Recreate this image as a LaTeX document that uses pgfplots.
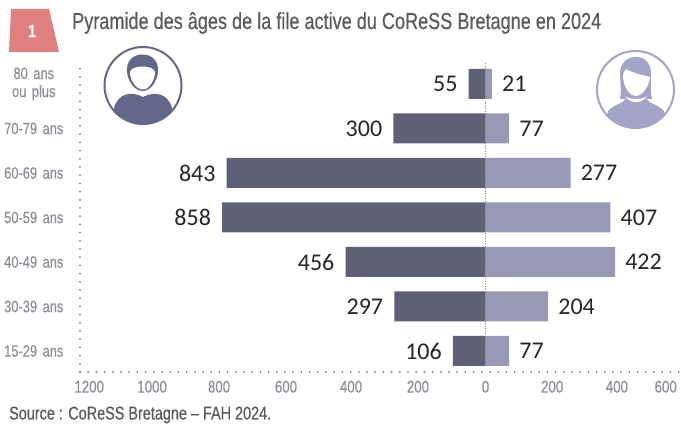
\documentclass[border=0pt]{standalone}
\usepackage{fontspec}
\usepackage{pgfplots}
\pgfplotsset{compat=1.18}
\setmainfont{Liberation Sans}
\newfontfamily\narrow[FakeStretch=0.78,FakeBold=0.35]{Liberation Sans}
\newfontfamily\calib{Carlito}
\definecolor{homme}{HTML}{5F6076}
\definecolor{femme}{HTML}{9A99B5}
\definecolor{ihomme}{HTML}{65678A}
\definecolor{ifemme}{HTML}{A5A3C8}
\definecolor{badge}{HTML}{E07F7F}
\definecolor{titre}{HTML}{57595C}
\definecolor{graduation}{HTML}{8C8F96}

\begin{document}
\begin{tikzpicture}[x=1pt,y=1pt]
\path[use as bounding box] (0,0) rectangle (681,425);

\begin{axis}[
    at={(80pt,53pt)}, anchor=south west,
    scale only axis,
    width=600pt, height=310pt,
    xbar, bar width=30pt, bar shift=0pt,
    xmin=-1321, xmax=633.5,
    ymin=-0.472, ymax=6.494,
    axis x line=bottom, axis y line=left,
    axis line style={-, graduation!85!black, line width=2pt, line cap=round, dash pattern=on 0pt off 8.2pt},
    major tick length=0pt,
    ytick={0,1,2,3,4,5,6},
    yticklabels={15-29 ans,30-39 ans,40-49 ans,50-59 ans,60-69 ans,70-79 ans,{80 ans\\ou plus}},
    xtick={-1291,-1086,-868,-650,-438,-220,0,217,428,587},
    xticklabels={1200,1000,800,600,400,200,0,200,400,600},
    yticklabel style={font=\fontsize{16.5}{18}\selectfont\narrow, text=graduation, align=center, text width=64pt, inner sep=0pt, anchor=east, xshift=-14pt},
    xticklabel style={font=\fontsize{17}{19}\selectfont\narrow, text=graduation, inner sep=0pt, anchor=north, yshift=-8.5pt},
    point meta=explicit,
    /pgf/number format/assume math mode=true,
    clip=false,
]
\addplot[fill=homme, draw=none, nodes near coords,
    nodes near coords style={anchor=east, text=black!85, font=\fontsize{24}{26}\selectfont\calib, inner sep=0pt, xshift=-11pt}]
    coordinates {(-106,0)[106] (-297,1)[297] (-456,2)[456] (-858,3)[858] (-843,4)[843] (-300,5)[300] (-55,6)[55]};
\addplot[fill=femme, draw=none, nodes near coords,
    nodes near coords style={anchor=west, text=black!85, font=\fontsize{24}{26}\selectfont\calib, inner sep=0pt, xshift=10pt}]
    coordinates {(77,0)[77] (204,1)[204] (422,2)[422] (407,3)[407] (277,4)[277] (77,5)[77] (21,6)[21]};
\draw[gray, line width=0.6pt, dash pattern=on 1pt off 1.5pt] (axis cs:0,-0.3) -- (axis cs:0,6.494);
\end{axis}

% pixel coordinates from here, y pointing down
\begin{scope}[yshift=425pt, y=-1pt]
\fill[badge] (11,9) -- (49,9) -- (59,52) -- (9,52) -- cycle;
\node[white, font=\fontsize{18}{20}\selectfont\narrow\bfseries] at (32,31) {1};
\node[anchor=base west, inner sep=0pt, text=titre, font=\fontsize{23.2}{26}\selectfont\narrow] at (72,29) {Pyramide des âges de la file active du CoReSS Bretagne en 2024};
\node[anchor=base west, inner sep=0pt, text=titre, font=\fontsize{18.5}{20}\selectfont\narrow] at (9,419.5) {Source : CoReSS Bretagne – FAH 2024.};

% homme
\begin{scope}
\clip (143,85.5) circle (39);
\fill[ihomme] (110,125) -- (114,108) .. controls (118,93) and (132,91) .. (143,97)
    .. controls (154,91) and (168,93) .. (172,108) -- (176,125) -- cycle;
\end{scope}
\draw[ihomme, line width=2pt] (143,85.5) circle (38.5);
\fill[ihomme] (127,72) .. controls (126,60) and (134,54.5) .. (142.5,54.5)
    .. controls (151,54.5) and (159,60) .. (158,72)
    .. controls (157,82) and (150,91) .. (143,91)
    .. controls (135,91) and (128,82) .. (127,72) -- cycle;
\fill[white] (130,72) .. controls (131,68) and (137,66.5) .. (142.5,66.5)
    .. controls (148,66.5) and (154,68) .. (155,72)
    .. controls (155,80) and (149,89.5) .. (143,89.5)
    .. controls (136,89.5) and (130,80) .. (130,72) -- cycle;

% femme
\begin{scope}
\clip (635.5,89.5) circle (38.5);
\fill[ifemme] (604,130) -- (608,111) .. controls (614,104) and (625,104) .. (627,96)
    -- (645,96) .. controls (647,104) and (658,104) .. (664,111) -- (668,130) -- cycle;
\end{scope}
\draw[ifemme, line width=2pt] (635.5,89.5) circle (38.5);
\fill[ifemme] (620,99) .. controls (622,92) and (620,84) .. (620,74)
    .. controls (620,62) and (628,57) .. (636,57)
    .. controls (644,57) and (651,62) .. (651,74)
    .. controls (651,84) and (650,92) .. (652,99) -- cycle;
\fill[white] (626,69) .. controls (633,73) and (642,75) .. (650,77)
    .. controls (649,87) and (642,96) .. (636,96)
    .. controls (630,96) and (624,88) .. (623,77)
    .. controls (623,73) and (624,71) .. (626,69) -- cycle;
\fill[white] (625,96) .. controls (629,104) and (643,104) .. (647,96)
    .. controls (642,100) and (630,100) .. (625,96) -- cycle;
\end{scope}
\end{tikzpicture}
\end{document}
